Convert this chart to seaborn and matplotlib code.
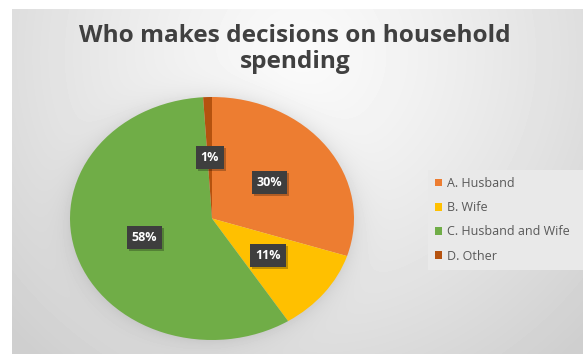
import numpy as np
import matplotlib
matplotlib.use("Agg")
import matplotlib.pyplot as plt
import matplotlib.patheffects as pe
from matplotlib.patches import Patch
import seaborn as sns

# Survey answers: who decides on household spending
categories = ["A. Husband", "B. Wife", "C. Husband and Wife", "D. Other"]
shares = [30, 11, 58, 1]
slice_colors = ["#ED7D31", "#FFC000", "#70AD47", "#B5520F"]
title_text = "Who makes decisions on household\nspending"

sns.set_theme(style="white")
plt.rcParams["font.family"] = ["Open Sans", "DejaVu Sans"]

W, H = 583, 354
fig = plt.figure(figsize=(W / 100, H / 100), dpi=100)
fig.patch.set_facecolor("white")

# ---- panel background: soft radial gradient plus a halo under the pie ----
x0, y0 = 12, 9
yy, xx = np.mgrid[y0:H, x0:W].astype(float)
d = np.hypot(xx - 300, yy - 55)
shade = 0.98 - 0.17 * np.clip(d / 400.0, 0, 1) ** 1.3
cx, cy, rx, ry = 212.0, 218.5, 142.0, 121.5
e = np.hypot((xx - cx) / rx, (yy - cy) / ry)
gap = (e - 1.0) * 130.0
halo = 0.07 * np.exp(-np.clip(gap, 0, None) / 10.0)
shade = shade - halo
bg = fig.add_axes([x0 / W, 0, (W - x0) / W, (H - y0) / H])
bg.imshow(shade, cmap="gray", vmin=0, vmax=1, aspect="auto",
          interpolation="bilinear")
bg.set_axis_off()

# ---- pie ----
ax = fig.add_axes([(cx - rx) / W, (H - (cy + ry)) / H, 2 * rx / W, 2 * ry / H])
ax.patch.set_alpha(0)
wedges, _, autotexts = ax.pie(
    shares,
    colors=slice_colors,
    startangle=90,
    counterclock=False,
    autopct=lambda p: f"{p:.0f}%",
    pctdistance=0.5,
    radius=1.0,
    wedgeprops=dict(linewidth=0),
    textprops=dict(color="white", fontsize=9, fontweight="bold"),
)
ax.set_aspect("auto")
ax.set_xlim(-1, 1)
ax.set_ylim(-1, 1)
ax.set_axis_off()

for t in autotexts:
    t.set_bbox(dict(boxstyle="square,pad=0.4", facecolor="#3E3E3E",
                    edgecolor="none"))
    t.get_bbox_patch().set_path_effects([
        pe.SimplePatchShadow(offset=(1.5, -1.5), shadow_rgbFace="#000000",
                             alpha=0.25),
        pe.Normal(),
    ])

# ---- title ----
fig.text(295 / W, 1 - 24 / H, title_text, ha="center", va="top",
         fontsize=17.6, fontweight="bold", color="#404040",
         linespacing=1.1)

# ---- legend ----
handles = [Patch(facecolor=c, edgecolor="none") for c in slice_colors]
leg = fig.legend(
    handles, categories,
    loc="upper left",
    bbox_to_anchor=(428 / W, 0, (W - 428) / W, 1 - 170 / H),
    mode="expand",
    frameon=True, fancybox=False,
    facecolor="#E9E9E9", edgecolor="none", framealpha=1,
    fontsize=9, labelcolor="#595959",
    handlelength=0.6, handleheight=0.6, handletextpad=0.35,
    labelspacing=0.9, borderpad=0.55, borderaxespad=0,
)

fig.savefig("out.png", dpi=100, facecolor=fig.get_facecolor())
